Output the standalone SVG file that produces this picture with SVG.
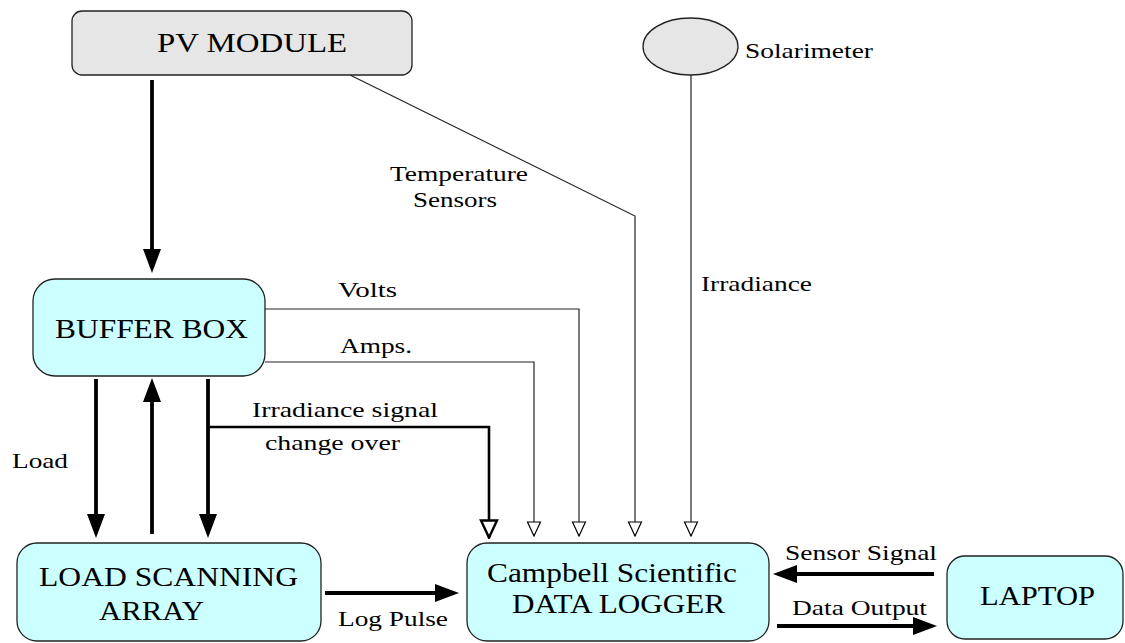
<svg xmlns="http://www.w3.org/2000/svg" width="1125" height="643" viewBox="0 0 1125 643">
<defs>
<style>
text{font-family:"Liberation Serif","Times New Roman",serif;fill:#000}
.big{font-size:27px}
.lbl{font-size:22px}
.box{fill:#ccffff;stroke:#222;stroke-width:1.3}
.grey{fill:#e6e6e6;stroke:#222;stroke-width:1.3}
.thin{fill:none;stroke:#222;stroke-width:1.2}
.thick{fill:none;stroke:#000;stroke-width:3.8}
.mid{fill:none;stroke:#000;stroke-width:2.6}
</style>
<marker id="solid" viewBox="0 0 24 18" refX="12" refY="9" markerWidth="24" markerHeight="18" markerUnits="userSpaceOnUse" orient="auto">
<path d="M0,0 L24,9 L0,18 z" fill="#000"/>
</marker>
<marker id="open" viewBox="0 0 16 16" refX="15" refY="8" markerWidth="16" markerHeight="16" markerUnits="userSpaceOnUse" orient="auto">
<path d="M1,1.5 L15,8 L1,14.5 z" fill="#fff" stroke="#000" stroke-width="1.2"/>
</marker>
<marker id="openbold" viewBox="0 0 20 20" refX="19" refY="10" markerWidth="20" markerHeight="20" markerUnits="userSpaceOnUse" orient="auto">
<path d="M1.5,2 L18.5,10 L1.5,18 z" fill="#fff" stroke="#000" stroke-width="2.4"/>
</marker>
</defs>
<rect width="1125" height="643" fill="#fff"/>

<g id="connectors">
<line class="thick" x1="152" y1="80" x2="152" y2="261" marker-end="url(#solid)"/>
<polyline class="thin" points="350,75 635,216 635,536" marker-end="url(#open)"/>
<polyline class="thin" points="691,75 691,536" marker-end="url(#open)"/>
<polyline class="thin" points="265,309 579,309 579,536" marker-end="url(#open)"/>
<polyline class="thin" points="265,362 534,362 534,536" marker-end="url(#open)"/>
<polyline class="mid" points="208,427 489,427 489,538" marker-end="url(#openbold)"/>
<line class="thick" x1="96" y1="379" x2="96" y2="526" marker-end="url(#solid)"/>
<line class="thick" x1="152" y1="534" x2="152" y2="390" marker-end="url(#solid)"/>
<line class="thick" x1="208" y1="379" x2="208" y2="526" marker-end="url(#solid)"/>
<line class="thick" x1="325" y1="593" x2="447" y2="593" marker-end="url(#solid)"/>
<line class="thick" x1="934" y1="574" x2="785" y2="574" marker-end="url(#solid)"/>
<line class="thick" x1="777" y1="626" x2="925" y2="626" marker-end="url(#solid)"/>
<text class="lbl" x="390" y="181" textLength="138" lengthAdjust="spacingAndGlyphs">Temperature</text>
<text class="lbl" x="413" y="207" textLength="84" lengthAdjust="spacingAndGlyphs">Sensors</text>
<text class="lbl" x="701" y="291" textLength="111" lengthAdjust="spacingAndGlyphs">Irradiance</text>
<text class="lbl" x="338" y="297" textLength="59" lengthAdjust="spacingAndGlyphs">Volts</text>
<text class="lbl" x="340" y="353" textLength="72" lengthAdjust="spacingAndGlyphs">Amps.</text>
<text class="lbl" x="252" y="417" textLength="186" lengthAdjust="spacingAndGlyphs">Irradiance signal</text>
<text class="lbl" x="265" y="450" textLength="135" lengthAdjust="spacingAndGlyphs">change over</text>
<text class="lbl" x="12" y="468" textLength="56" lengthAdjust="spacingAndGlyphs">Load</text>
<text class="lbl" x="338" y="626" textLength="110" lengthAdjust="spacingAndGlyphs">Log Pulse</text>
<text class="lbl" x="785" y="560" textLength="152" lengthAdjust="spacingAndGlyphs">Sensor Signal</text>
<text class="lbl" x="792" y="615" textLength="135" lengthAdjust="spacingAndGlyphs">Data Output</text>
</g>

<g id="pv-module">
<rect class="grey" x="72" y="11" width="340" height="64" rx="10"/>
<text class="big" x="157" y="52" textLength="190" lengthAdjust="spacingAndGlyphs">PV MODULE</text>
</g>

<g id="solarimeter">
<ellipse class="grey" cx="690.5" cy="46.5" rx="47.5" ry="28.5"/>
<text class="lbl" x="745" y="58" textLength="128" lengthAdjust="spacingAndGlyphs">Solarimeter</text>
</g>

<g id="buffer-box">
<rect class="box" x="33" y="279" width="232" height="97" rx="22"/>
<text class="big" x="55" y="338" textLength="193" lengthAdjust="spacingAndGlyphs">BUFFER BOX</text>
</g>

<g id="load-scanning-array">
<rect class="box" x="17" y="543" width="304" height="98" rx="20"/>
<text class="big" x="39" y="586" textLength="259" lengthAdjust="spacingAndGlyphs">LOAD SCANNING</text>
<text class="big" x="99" y="620" textLength="105" lengthAdjust="spacingAndGlyphs">ARRAY</text>
</g>

<g id="data-logger">
<rect class="box" x="467" y="543" width="302" height="98" rx="20"/>
<text class="big" x="487" y="582" textLength="250" lengthAdjust="spacingAndGlyphs">Campbell Scientific</text>
<text class="big" x="512" y="613" textLength="213" lengthAdjust="spacingAndGlyphs">DATA LOGGER</text>
</g>

<g id="laptop">
<rect class="box" x="947" y="556" width="176" height="83" rx="18"/>
<text class="big" x="980" y="605" textLength="115" lengthAdjust="spacingAndGlyphs">LAPTOP</text>
</g>
</svg>
